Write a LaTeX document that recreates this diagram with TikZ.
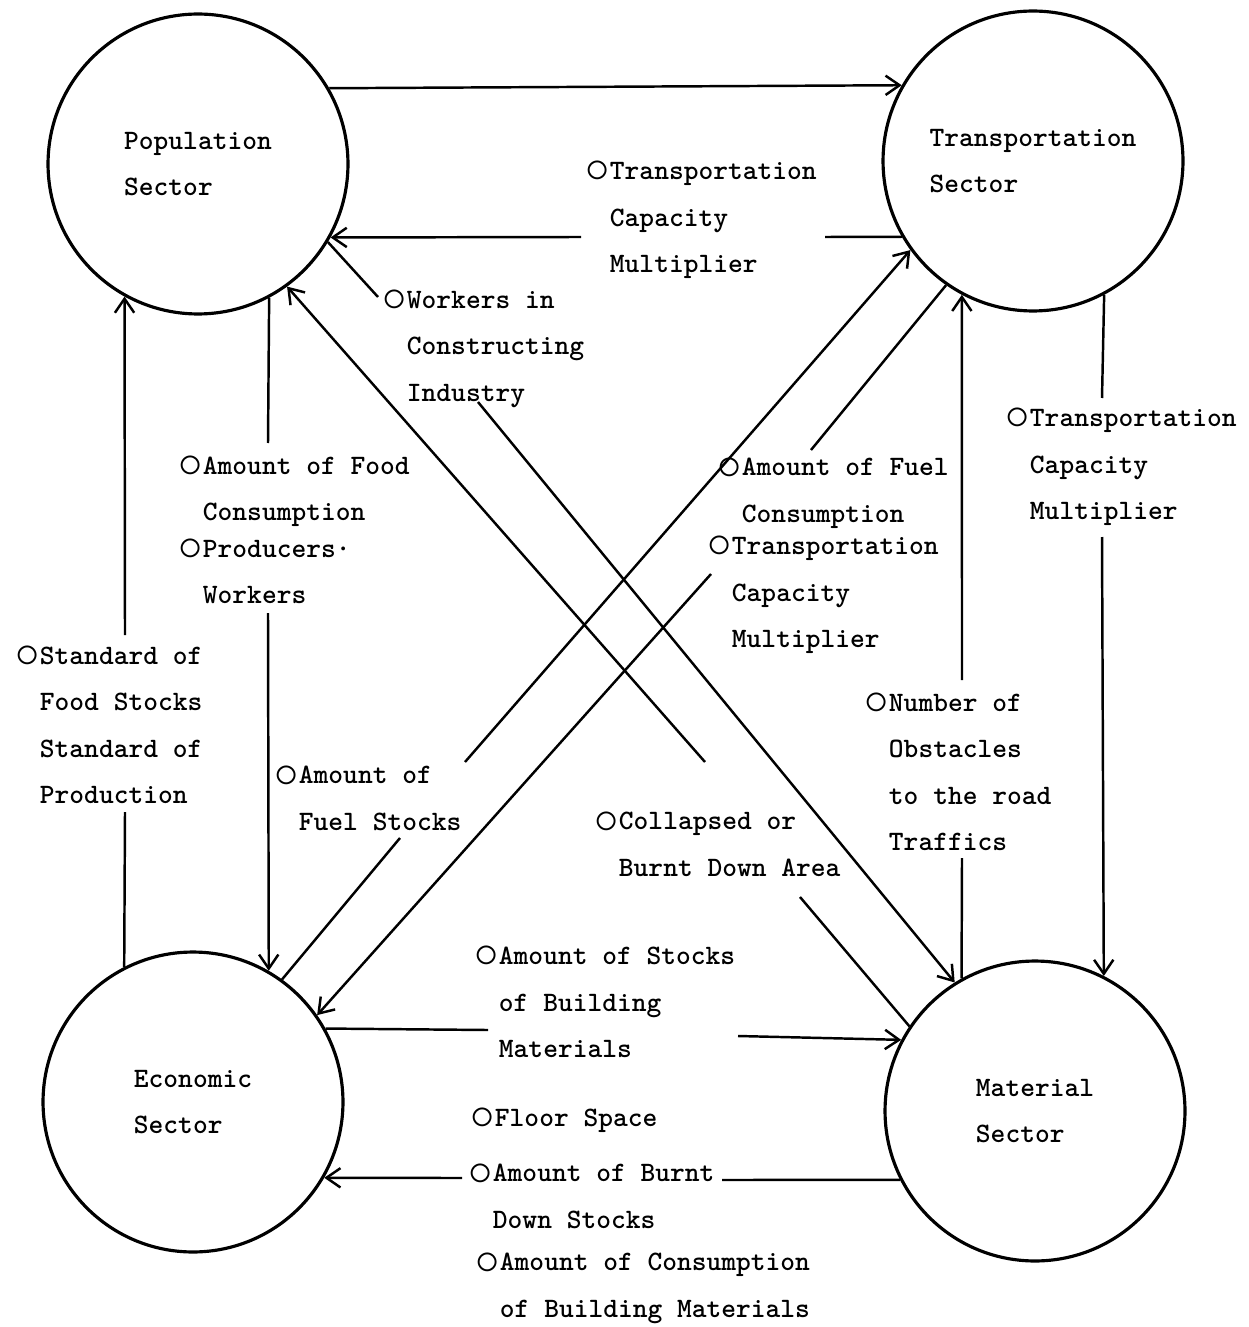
\documentclass[tikz,border=0pt]{standalone}
\usepackage{graphicx}
\usetikzlibrary{arrows.meta}
\newcommand{\ring}{\makebox[0.88em][l]{\raisebox{-0.12em}{\scalebox{1.6}{$\circ$}}}}
\newcommand{\ind}{\hphantom{\ring}}

\begin{document}
\begin{tikzpicture}[x=0.02cm,y=-0.02cm,line width=1.4pt,
    sector/.style={circle,draw,line width=1.8pt,minimum size=6cm,inner sep=0pt,align=left,font=\ttfamily\bfseries\fontsize{16}{26.5}\selectfont},
    lbl/.style={anchor=west,inner sep=0pt,align=left,font=\ttfamily\bfseries\fontsize{16}{26.5}\selectfont},
    arr/.style={-{Straight Barb[length=8pt,width=11pt]}}]
    \useasboundingbox (0,0) rectangle (1248,1327);

    \node[sector] (pop) at (198,164) {Population\\Sector};
    \node[sector] (trans) at (1033,161) {Transportation\\Sector};
    \node[sector] (econ) at (193,1102) {Economic\\Sector};
    \node[sector] (mat) at (1035,1111) {Material\\Sector};

    \node[lbl] (tcm) at (584,220) {\ring Transportation\\\ind Capacity\\\ind Multiplier};
    \node[lbl] (wk) at (381,349) {\ring Workers in\\\ind Constructing\\\ind Industry};
    \node[lbl] (food) at (177,530) {\ring Amount of Food\\\ind Consumption\\[-6pt]\ring Producers\textperiodcentered\\\ind Workers};
    \node[lbl] (std) at (14,725) {\ring Standard of\\\ind Food Stocks\\\ind Standard of\\\ind Production};
    \node[lbl] (fs) at (273,798) {\ring Amount of\\\ind Fuel Stocks};
    \node[lbl] (fc) at (716,493) {\ring Amount of Fuel\\\ind Consumption};
    \node[lbl] (tcm2) at (706,595) {\ring Transportation\\\ind Capacity\\\ind Multiplier};
    \node[lbl] (obs) at (863,772) {\ring Number of\\\ind Obstacles\\\ind to the road\\\ind Traffics};
    \node[lbl] (tcm3) at (1004,467) {\ring Transportation\\\ind Capacity\\\ind Multiplier};
    \node[lbl] (col) at (593,844) {\ring Collapsed or\\\ind Burnt Down Area};
    \node[lbl] (sm) at (473,1002) {\ring Amount of Stocks\\\ind of Building\\\ind Materials};
    \node[lbl] (fl) at (469,1120) {\ring Floor Space};
    \node[lbl] (bd) at (467,1196) {\ring Amount of Burnt\\\ind Down Stocks};
    \node[lbl] (cm) at (474,1288) {\ring Amount of Consumption\\\ind of Building Materials};

    \coordinate (tcmA) at (825,237);
    \coordinate (tcmB) at (581,237);
    \coordinate (wkA) at (378,297);
    \coordinate (wkB) at (478,402);
    \coordinate (colA) at (800,897);
    \coordinate (colB) at (705,762);
    \coordinate (foodA) at (268,443);
    \coordinate (foodB) at (268,613);
    \coordinate (stdA) at (125,812);
    \coordinate (stdB) at (125,635);
    \coordinate (fsA) at (400,838);
    \coordinate (fsB) at (465,762);
    \coordinate (fcA) at (811,450);
    \coordinate (fcB) at (711,574);
    \coordinate (obsA) at (962,858);
    \coordinate (obsB) at (962,680);
    \coordinate (tcm3A) at (1102,398);
    \coordinate (tcm3B) at (1102,537);
    \coordinate (smA) at (488,1030);
    \coordinate (smB) at (738,1036);
    \coordinate (bdA) at (722,1180);
    \coordinate (bdB) at (462,1178);

    \draw[arr] (pop.30.9) -- (trans.150.5);
    \draw (trans.210.5) -- (tcmA);
    \draw[arr] (tcmB) -- (pop.-29.1);
    \draw (pop.-31) -- (wkA);
    \draw[arr] (wkB) -- (mat.122);
    \draw (mat.146) -- (colA);
    \draw[arr] (colB) -- (pop.-54);
    \draw (pop.-62.2) -- (foodA);
    \draw[arr] (foodB) -- (econ.60);
    \draw (econ.117) -- (stdA);
    \draw[arr] (stdB) -- (pop.-119.1);
    \draw (econ.54) -- (fsA);
    \draw[arr] (fsB) -- (trans.216);
    \draw (trans.235.7) -- (fcA);
    \draw[arr] (fcB) -- (econ.35);
    \draw (mat.119.1) -- (obsA);
    \draw[arr] (obsB) -- (trans.-118.2);
    \draw (trans.-62.6) -- (tcm3A);
    \draw[arr] (tcm3B) -- (mat.63.5);
    \draw (econ.29) -- (smA);
    \draw[arr] (smB) -- (mat.152);
    \draw (mat.207.4) -- (bdA);
    \draw[arr] (bdB) -- (econ.-30.5);
\end{tikzpicture}
\end{document}
